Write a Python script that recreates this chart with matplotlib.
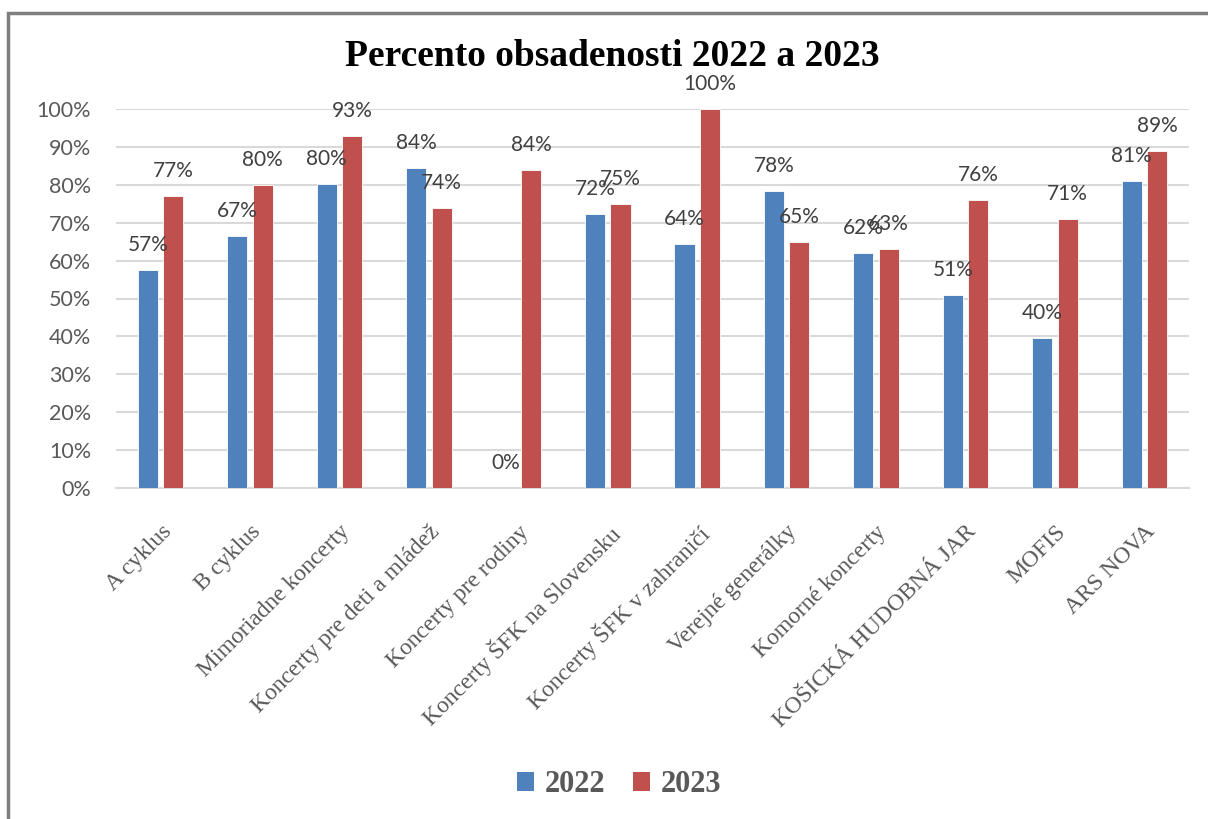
import matplotlib
matplotlib.use("Agg")
import numpy as np
import matplotlib.pyplot as plt
from matplotlib.patches import Patch, Rectangle

categories = ["A cyklus", "B cyklus", "Mimoriadne koncerty", "Koncerty pre deti a mládež",
              "Koncerty pre rodiny", "Koncerty ŠFK na Slovensku", "Koncerty ŠFK v zahraničí",
              "Verejné generálky", "Komorné koncerty", "KOŠICKÁ HUDOBNÁ JAR", "MOFIS", "ARS NOVA"]
v2022 = [57.4, 66.6, 80.3, 84.5, 0.0, 72.3, 64.3, 78.3, 62.0, 51.0, 39.7, 81.0]
v2023 = [77.0, 80.0, 93.0, 74.0, 84.0, 75.0, 100.0, 65.0, 63.0, 76.0, 71.0, 89.0]
series_names = ["2022", "2023"]
colors = ["#4F81BD", "#C0504D"]

W, H = 1208, 819
fig = plt.figure(figsize=(W / 100, H / 100), dpi=100)
ax = fig.add_axes([116 / W, 1 - 488 / H, (1189 - 116) / W, (488 - 109) / H])

x = np.arange(len(categories))
bw = 0.224
gap = 0.06
b1 = ax.bar(x - (bw + gap) / 2, np.array(v2022) / 100, bw, color=colors[0],
            edgecolor="white", linewidth=0.6, zorder=3)
b2 = ax.bar(x + (bw + gap) / 2, np.array(v2023) / 100, bw, color=colors[1],
            edgecolor="white", linewidth=0.6, zorder=3)

# popisky hodnôt
for bars, vals in ((b1, v2022), (b2, v2023)):
    for r, v in zip(bars, vals):
        ax.annotate(f"{v:.0f}%", (r.get_x() + r.get_width() / 2, r.get_height()),
                    xytext=(0, 18), textcoords="offset points", ha="center", va="center",
                    fontsize=15, family="Lato", color="#404040", clip_on=False, zorder=4)

ax.set_xlim(-0.5, len(categories) - 0.5)
ax.set_ylim(0, 1)
ax.set_yticks(np.arange(0, 1.01, 0.1))
ax.set_yticklabels([f"{int(round(t * 100))}%" for t in np.arange(0, 1.01, 0.1)],
                   family="Lato", fontsize=15.5, color="#595959")
ax.yaxis.grid(True, color="#D9D9D9", linewidth=1.5, zorder=0)
ax.set_axisbelow(True)
ax.tick_params(axis="y", length=0, pad=18)
ax.tick_params(axis="x", length=0, pad=24)
ax.set_xticks(x)
ax.set_xticklabels(categories, rotation=45, ha="right", va="top", rotation_mode="anchor",
                   family="Liberation Serif", fontsize=17, color="#595959")
for s in ["top", "right", "left"]:
    ax.spines[s].set_visible(False)
ax.spines["bottom"].set_color("#D9D9D9")
ax.spines["bottom"].set_linewidth(1.5)

fig.text(612 / W, 1 - 56 / H, "Percento obsadenosti 2022 a 2023", ha="center", va="center",
         family="Liberation Serif", fontweight="bold", fontsize=27, color="black")

handles = [Patch(facecolor=c, edgecolor="none") for c in colors]
leg = fig.legend(handles, series_names, loc="center", bbox_to_anchor=(619 / W, 1 - 785 / H),
                 ncol=2, frameon=False, handlelength=0.55, handleheight=0.55,
                 handletextpad=0.35, columnspacing=0.9,
                 prop={"family": "Liberation Serif", "weight": "bold", "size": 22})
for t in leg.get_texts():
    t.set_color("#595959")

# rámik grafu
fig.patches.append(Rectangle((8 / W, -0.1), 1.2, 1 - 13 / H + 0.1, transform=fig.transFigure,
                             fill=False, edgecolor="#7F7F7F", linewidth=2.5))

fig.savefig("out.png", dpi=100)
